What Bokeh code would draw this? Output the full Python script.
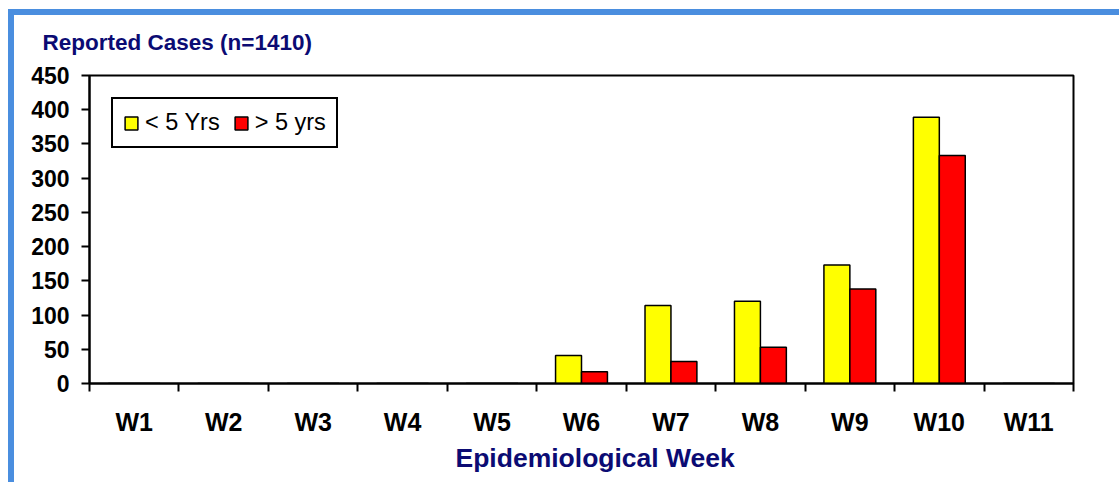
from bokeh.plotting import figure
from bokeh.models import ColumnDataSource, FixedTicker, Range1d, Legend, LegendItem, Title
from bokeh.embed import file_html
from bokeh.resources import INLINE

weeks = ["W1", "W2", "W3", "W4", "W5", "W6", "W7", "W8", "W9", "W10", "W11"]
under5 = [0, 0, 0, 0, 0, 41, 114, 120, 173, 389, 0]
over5 = [0, 0, 0, 0, 0, 17, 32, 53, 138, 333, 0]
y_ticks = [0, 50, 100, 150, 200, 250, 300, 350, 400, 450]

FONT = "Liberation Sans"
NAVY = "#0B0B73"
BLUE = "#4A8EDF"
BAR_W = 0.29

centers = [i + 0.5 for i in range(len(weeks))]
src = ColumnDataSource(dict(
    week=weeks,
    x1=[c - BAR_W / 2 for c in centers],
    x2=[c + BAR_W / 2 for c in centers],
    u5=under5,
    o5=over5,
))

p = figure(
    output_backend="svg", toolbar_location=None,
    frame_width=984, frame_height=308,
    min_border_left=89, min_border_right=46, min_border_top=75, min_border_bottom=99,
    x_range=Range1d(0, len(weeks)), y_range=Range1d(0, 450),
    title="Reported Cases (n=1410)",
)
p.border_fill_color = None
p.background_fill_color = "white"
p.styles = {
    "background-image": f"linear-gradient({BLUE},{BLUE}), linear-gradient({BLUE},{BLUE})",
    "background-size": "100% 6px, 6px 100%",
    "background-position": "8px 9px, 8px 9px",
    "background-repeat": "no-repeat",
}

p.title.text_font = FONT
p.title.text_font_size = "22.5px"
p.title.text_font_style = "bold"
p.title.text_color = NAVY
p.title.align = "left"
p.title.offset = -47
p.title.standoff = 41

r1 = p.vbar(x="x1", top="u5", width=BAR_W, source=src, fill_color="#FFFF00",
            line_color="black", line_width=1.5)
r2 = p.vbar(x="x2", top="o5", width=BAR_W, source=src, fill_color="#FF0000",
            line_color="black", line_width=1.5)

legend = Legend(items=[LegendItem(label="< 5 Yrs", renderers=[r1]),
                       LegendItem(label="> 5 yrs", renderers=[r2])],
                location="top_left", orientation="horizontal")
legend.margin = 22
legend.padding = 10
legend.spacing = 13
legend.glyph_width = 16
legend.glyph_height = 16
legend.label_standoff = 6
legend.label_text_font = FONT
legend.label_text_font_size = "23.5px"
legend.label_text_color = "black"
legend.border_line_color = "black"
legend.border_line_alpha = 1
legend.border_line_width = 2
legend.background_fill_alpha = 1
p.add_layout(legend)

p.grid.visible = False
p.outline_line_color = "black"
p.outline_line_width = 2

# x axis: labels at centres, ticks at category boundaries
xax = p.xaxis[0]
xax.ticker = FixedTicker(ticks=centers, minor_ticks=list(range(len(weeks) + 1)))
xax.major_label_overrides = {c: w for c, w in zip(centers, weeks)}
xax.major_tick_out = 0
xax.major_tick_in = 0
xax.minor_tick_out = 8
xax.minor_tick_in = 0
xax.minor_tick_line_color = "black"
xax.minor_tick_line_width = 2
xax.axis_line_width = 2
xax.axis_line_color = "black"
xax.major_label_text_font = FONT
xax.major_label_text_font_size = "25px"
xax.major_label_text_font_style = "bold"
xax.major_label_text_color = "black"
xax.major_label_standoff = 16

xtitle = Title(text="Epidemiological Week", align="left", offset=366,
               text_font=FONT, text_font_size="26.5px", text_font_style="bold",
               text_color=NAVY, standoff=4)
p.add_layout(xtitle, "below")

yax = p.yaxis[0]
yax.ticker = FixedTicker(ticks=y_ticks)
yax.major_tick_out = 8
yax.major_tick_in = 0
yax.minor_tick_out = 0
yax.minor_tick_in = 0
yax.major_tick_line_width = 2
yax.axis_line_width = 2
yax.axis_line_color = "black"
yax.major_label_text_font = FONT
yax.major_label_text_font_size = "23px"
yax.major_label_text_font_style = "bold"
yax.major_label_text_color = "black"
yax.major_label_standoff = 12

open("out.html", "w").write(file_html(p, INLINE))
